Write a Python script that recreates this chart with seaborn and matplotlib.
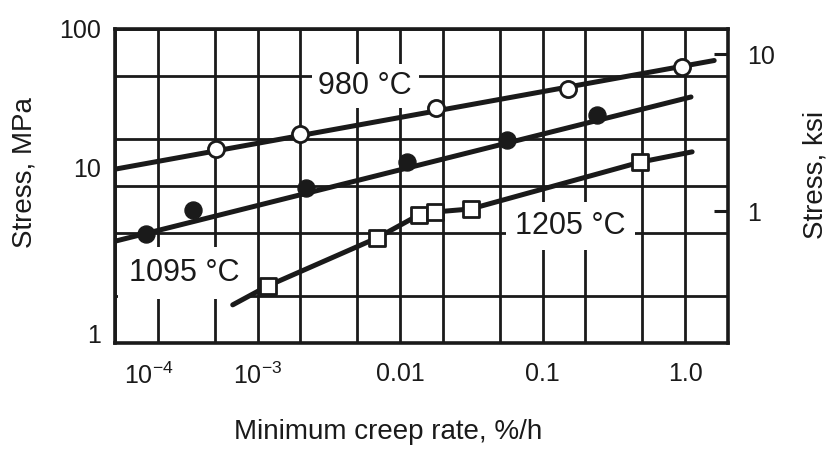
import matplotlib
matplotlib.use("Agg")
import matplotlib.pyplot as plt
import matplotlib.ticker as mticker
import matplotlib.transforms as mtransforms
import seaborn as sns

# Minimum creep rate (%/h) against stress (MPa) at three temperatures
rate_980 = [5.1e-4, 2.0e-3, 0.018, 0.15, 0.95]
stress_980 = [17.2, 21.4, 31.4, 41.5, 57.3]
fit_rate_980 = [1e-4, 1.6]
fit_stress_980 = [12.8, 63.0]

rate_1095 = [1.65e-4, 3.5e-4, 2.2e-3, 0.0111, 0.056, 0.24]
stress_1095 = [4.94, 7.03, 9.7, 14.2, 19.6, 28.3]
fit_rate_1095 = [1e-4, 1.1]
fit_stress_1095 = [4.45, 36.9]

rate_1205 = [1.18e-3, 6.9e-3, 0.0135, 0.0175, 0.0313, 0.485]
stress_1205 = [2.31, 4.67, 6.53, 6.83, 7.14, 14.2]
curve_rate_1205 = [6.7e-4, 1.18e-3, 6.9e-3, 0.0135, 0.0175, 0.0313, 0.485, 1.12]
curve_stress_1205 = [1.75, 2.31, 4.67, 6.53, 6.83, 7.14, 14.2, 16.5]

# Curve labels: text and anchor (rate, stress)
curve_labels = ["980 °C", "1095 °C", "1205 °C"]
curve_label_rate = [5.7e-3, 3.05e-4, 0.157]
curve_label_stress = [43.4, 2.79, 5.56]

x_ticks = [1e-4, 1e-3, 0.01, 0.1, 1.0]
x_tick_labels = [r"$\mathregular{10^{-4}}$", r"$\mathregular{10^{-3}}$",
                 "0.01", "0.1", "1.0"]
y_ticks_mpa = [1, 10, 100]
y_tick_labels_mpa = ["1", "10", "100"]
y_ticks_ksi = [1, 10]
y_tick_labels_ksi = ["1", "10"]
MPA_PER_KSI = 6.895

INK = "#1a1a1a"

sns.set_style("white")
plt.rcParams["font.family"] = ["Liberation Sans", "DejaVu Sans"]
plt.rcParams["mathtext.fontset"] = "custom"
plt.rcParams["mathtext.rm"] = "Liberation Sans"
plt.rcParams["mathtext.it"] = "Liberation Sans:italic"
plt.rcParams["mathtext.bf"] = "Liberation Sans:bold"

fig = plt.figure(figsize=(8.27, 4.58), dpi=100)
ax = fig.add_axes([115 / 827, 1 - 343 / 458, 613 / 827, 314 / 458])
ax.set_xscale("log")
ax.set_yscale("log")
ax.set_xlim(1e-4, 2.0)
ax.set_ylim(1, 100)

# 1-2-5 grid on both log axes
ax.xaxis.set_major_locator(mticker.FixedLocator(x_ticks))
ax.xaxis.set_minor_locator(mticker.LogLocator(base=10, subs=(2, 5)))
ax.xaxis.set_minor_formatter(mticker.NullFormatter())
ax.yaxis.set_major_locator(mticker.FixedLocator(y_ticks_mpa))
ax.yaxis.set_minor_locator(mticker.LogLocator(base=10, subs=(2, 5)))
ax.yaxis.set_minor_formatter(mticker.NullFormatter())
ax.set_xticks(x_ticks, x_tick_labels)
ax.set_yticks(y_ticks_mpa, y_tick_labels_mpa)
ax.set_axisbelow(True)
ax.grid(which="both", color=INK, lw=2.0)
ax.tick_params(which="both", length=0, labelsize=18, labelcolor=INK)
ax.tick_params(axis="x", pad=14)
ax.tick_params(axis="y", pad=10)
for sp in ax.spines.values():
    sp.set_color(INK)
    sp.set_linewidth(2.6)

# Fitted lines
line_kw = dict(ax=ax, color=INK, lw=3.6, sort=False, estimator=None,
               zorder=3, solid_capstyle="round", legend=False)
sns.lineplot(x=fit_rate_980, y=fit_stress_980, **line_kw)
sns.lineplot(x=fit_rate_1095, y=fit_stress_1095, **line_kw)
sns.lineplot(x=curve_rate_1205, y=curve_stress_1205, **line_kw)

# Test points
sns.scatterplot(x=rate_980, y=stress_980, ax=ax, marker="o", s=135,
                color=INK, facecolor="white", edgecolor=INK, linewidth=2.0,
                zorder=5, legend=False)
sns.scatterplot(x=rate_1095, y=stress_1095, ax=ax, marker="o", s=150,
                color=INK, facecolor=INK, edgecolor=INK, linewidth=1.0,
                zorder=5, legend=False)
sns.scatterplot(x=rate_1205, y=stress_1205, ax=ax, marker="s", s=120,
                color=INK, facecolor="white", edgecolor=INK, linewidth=2.0,
                zorder=5, legend=False)

# Temperature labels sitting on white patches over the grid
label_pads = [0.22, 0.35, 0.3]
for txt, xr, ys, pad in zip(curve_labels, curve_label_rate,
                            curve_label_stress, label_pads):
    ax.text(xr, ys, txt, ha="center", va="center", fontsize=22, color=INK,
            zorder=2.5,
            bbox=dict(boxstyle=f"square,pad={pad}", fc="white", ec="none"))

# Nudge a few tick labels as set on the printed scale
xl = ax.get_xticklabels()
xl[0].set_transform(xl[0].get_transform() +
                    mtransforms.ScaledTranslation(24 / 72, 0, fig.dpi_scale_trans))
yl = ax.get_yticklabels()
for lab, dy in zip(yl, [7, 13, 0]):
    lab.set_transform(lab.get_transform() +
                      mtransforms.ScaledTranslation(0, dy / 72, fig.dpi_scale_trans))

ax.set_xlabel("Minimum creep rate, %/h", fontsize=20, color=INK,
              va="center")
ax.xaxis.set_label_coords(0.445, -0.283)
ax.set_ylabel("Stress, MPa", fontsize=20, color=INK, va="center",
              rotation_mode="anchor")
ax.yaxis.set_label_coords(-0.147, 0.543)

# Secondary stress scale in ksi
ax2 = ax.twinx()
ax2.set_yscale("log")
ax2.set_ylim(1 / MPA_PER_KSI, 100 / MPA_PER_KSI)
ax2.yaxis.set_major_locator(mticker.FixedLocator(y_ticks_ksi))
ax2.yaxis.set_minor_locator(mticker.NullLocator())
ax2.set_yticks(y_ticks_ksi, y_tick_labels_ksi)
ax2.tick_params(axis="y", direction="in", length=10, width=2.2,
                color=INK, labelsize=18, labelcolor=INK, pad=14)
for sp in ax2.spines.values():
    sp.set_visible(False)
ax2.set_ylabel("Stress, ksi", fontsize=20, color=INK, va="center",
               rotation_mode="anchor")
ax2.yaxis.set_label_coords(1.142, 0.535)

fig.savefig("out.png", dpi=100)
